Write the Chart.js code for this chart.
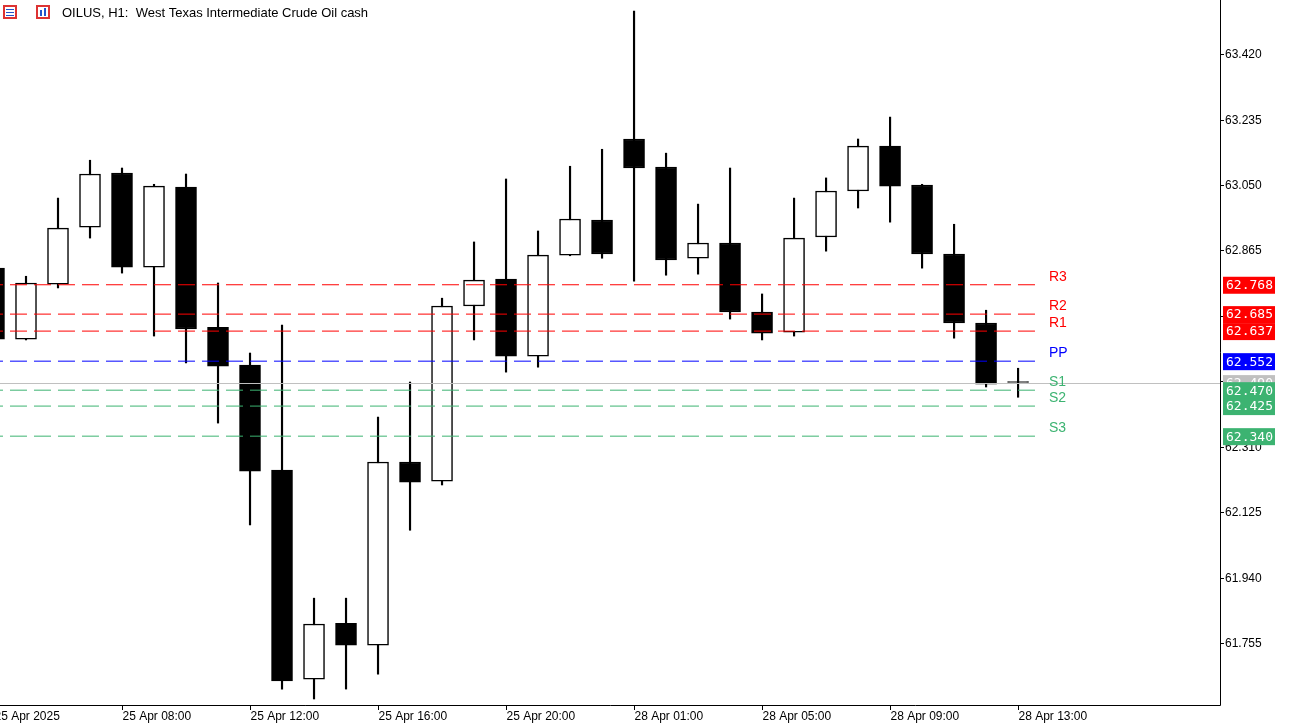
<!DOCTYPE html>
<html>
<head>
<meta charset="utf-8">
<script src="https://cdn.jsdelivr.net/npm/chart.js@4"></script>
<style>
  html, body { margin: 0; padding: 0; background: #fff; }
  #wrap { width: 1290px; height: 727px; position: relative; }
</style>
</head>
<body>
<div id="wrap"><canvas id="chart"></canvas></div>
<script>
// 25 Apr 04:00 .. 28 Apr 13:00, H1
const times = ['25 Apr 04:00','25 Apr 05:00','25 Apr 06:00','25 Apr 07:00','25 Apr 08:00','25 Apr 09:00',
  '25 Apr 10:00','25 Apr 11:00','25 Apr 12:00','25 Apr 13:00','25 Apr 14:00','25 Apr 15:00','25 Apr 16:00',
  '25 Apr 17:00','25 Apr 18:00','25 Apr 19:00','25 Apr 20:00','25 Apr 21:00','25 Apr 22:00','25 Apr 23:00',
  '28 Apr 01:00','28 Apr 02:00','28 Apr 03:00','28 Apr 04:00','28 Apr 05:00','28 Apr 06:00','28 Apr 07:00',
  '28 Apr 08:00','28 Apr 09:00','28 Apr 10:00','28 Apr 11:00','28 Apr 12:00','28 Apr 13:00'];
const opens  = [62.815,62.614,62.770,62.931,63.084,62.818,63.044,62.648,62.541,62.244,61.653,61.811,61.749,
  62.267,62.213,62.708,62.784,62.566,62.852,62.951,63.180,63.101,62.843,62.886,62.691,62.634,62.903,
  63.033,63.160,63.050,62.855,62.660,62.493];
const highs  = [62.818,62.792,63.013,63.120,63.098,63.052,63.081,62.773,62.575,62.654,61.882,61.882,62.394,
  62.493,62.730,62.889,63.067,62.920,63.103,63.151,63.542,63.140,62.996,63.098,62.742,63.013,63.070,
  63.180,63.242,63.052,62.939,62.696,62.532];
const lows   = [62.612,62.612,62.759,62.900,62.801,62.623,62.547,62.377,62.089,61.625,61.597,61.625,61.667,
  62.074,62.202,62.612,62.521,62.535,62.850,62.843,62.778,62.795,62.798,62.671,62.612,62.623,62.863,
  62.985,62.945,62.815,62.617,62.479,62.450];
const closes = [62.614,62.773,62.928,63.081,62.818,63.047,62.643,62.538,62.241,61.648,61.809,61.749,62.267,
  62.210,62.708,62.781,62.566,62.852,62.954,62.855,63.098,62.838,62.886,62.691,62.631,62.900,63.033,
  63.160,63.047,62.855,62.660,62.487,62.493];

const priceTicks = [63.420,63.235,63.050,62.865,62.680,62.495,62.310,62.125,61.940,61.755];
const timeLabels = ['25 Apr 2025','25 Apr 08:00','25 Apr 12:00','25 Apr 16:00','25 Apr 20:00',
  '28 Apr 01:00','28 Apr 05:00','28 Apr 09:00','28 Apr 13:00'];
const timeLabelIdx = [0,4,8,12,16,20,24,28,32];

const levelNames  = ['R3','R2','R1','PP','S1','S2','S3'];
const levelValues = [62.768,62.685,62.637,62.552,62.470,62.425,62.340];
const levelColors = ['#ff0000','#ff0000','#ff0000','#0000ff','#3cb371','#3cb371','#3cb371'];
const bidPrice = 62.490;

const idx = times.map((t, i) => i - 1);
const wicks = idx.map((x, i) => ({ x, y: [lows[i], highs[i]] }));
const bodies = idx.map((x, i) => {
  let a = opens[i], b = closes[i];
  if (Math.abs(a - b) < 0.002) { a -= 0.0012; b += 0.0012; }
  return { x, y: [a, b] };
});
const bull = opens.map((o, i) => closes[i] > o);

const levelSets = levelValues.map((v, i) => ({
  type: 'line',
  data: [{ x: -2, y: v }, { x: 31.7, y: v }],
  borderColor: levelColors[i], borderWidth: 1, borderDash: [17, 7],
  pointRadius: 0, order: 0
}));

const decor = {
  id: 'decor',
  afterDraw(chart) {
    const { ctx, chartArea: a, scales: { x, y } } = chart;
    ctx.save();
    // bid line
    const by = Math.round(y.getPixelForValue(bidPrice)) + 0.5;
    ctx.strokeStyle = '#c0c0c0'; ctx.lineWidth = 1;
    ctx.beginPath(); ctx.moveTo(0, by); ctx.lineTo(a.right, by); ctx.stroke();
    // axes
    ctx.strokeStyle = '#000';
    ctx.beginPath();
    ctx.moveTo(a.right + 0.5, 0); ctx.lineTo(a.right + 0.5, a.bottom + 0.5);
    ctx.lineTo(0, a.bottom + 0.5); ctx.stroke();
    ctx.font = '12px "Liberation Sans", Arial, sans-serif';
    ctx.fillStyle = '#000'; ctx.textBaseline = 'middle'; ctx.textAlign = 'left';
    priceTicks.forEach(p => {
      const py = Math.round(y.getPixelForValue(p)) + 0.5;
      ctx.beginPath(); ctx.moveTo(a.right, py); ctx.lineTo(a.right + 4, py); ctx.stroke();
      ctx.fillText(p.toFixed(3), a.right + 5, py);
    });
    ctx.textBaseline = 'top';
    timeLabelIdx.forEach((ti, k) => {
      const px = Math.round(x.getPixelForValue(ti - 1)) + 0.5;
      ctx.beginPath(); ctx.moveTo(px, a.bottom); ctx.lineTo(px, a.bottom + 5); ctx.stroke();
      ctx.fillText(timeLabels[k], px, a.bottom + 6);
    });
    // level names
    ctx.font = '14px "Liberation Sans", Arial, sans-serif';
    ctx.textBaseline = 'bottom';
    levelValues.forEach((v, i) => {
      const py = y.getPixelForValue(v);
      ctx.fillStyle = levelColors[i];
      ctx.fillText(levelNames[i], 1049, py - 1);
    });
    // price boxes
    ctx.font = '13px "DejaVu Sans Mono", monospace';
    ctx.textBaseline = 'middle';
    const boxes = [[bidPrice, '#c0c0c0']].concat(levelValues.map((v, i) => [v, levelColors[i]]));
    boxes.forEach(([v, c]) => {
      const py = y.getPixelForValue(v);
      ctx.fillStyle = c;
      ctx.fillRect(a.right + 3, py - 8, 52, 17);
      ctx.fillStyle = '#fff';
      ctx.fillText(v.toFixed(3), a.right + 6, py + 1);
    });
    // header
    ctx.fillStyle = '#d33'; ctx.fillRect(3, 5, 14, 14);
    ctx.fillStyle = '#fff'; ctx.fillRect(5, 7, 10, 10);
    ctx.fillStyle = '#2255cc'; ctx.fillRect(6, 9, 8, 1); ctx.fillRect(6, 12, 8, 1); ctx.fillRect(6, 15, 8, 1);
    ctx.fillStyle = '#d33'; ctx.fillRect(36, 5, 14, 14);
    ctx.fillStyle = '#fff'; ctx.fillRect(38, 7, 10, 10);
    ctx.fillStyle = '#2255cc'; ctx.fillRect(40, 10, 2, 6); ctx.fillRect(44, 8, 2, 8);
    ctx.fillStyle = '#000';
    ctx.font = '13px "Liberation Sans", Arial, sans-serif';
    ctx.textBaseline = 'middle';
    ctx.fillText('OILUS, H1:  West Texas Intermediate Crude Oil cash', 62, 13);
    ctx.restore();
  }
};

new Chart(document.getElementById('chart'), {
  type: 'bar',
  data: {
    datasets: [
      { data: wicks, backgroundColor: '#000', barThickness: 1.5, grouped: false, order: 2 },
      { data: bodies, backgroundColor: bull.map(b => b ? '#fff' : '#000'), borderColor: '#000',
        borderWidth: 1.5, borderSkipped: false, barThickness: 21, grouped: false, order: 1 }
    ].concat(levelSets)
  },
  options: {
    responsive: true, maintainAspectRatio: false, animation: false,
    layout: { padding: { left: 0, right: 70, top: 0, bottom: 22 } },
    plugins: { legend: { display: false }, tooltip: { enabled: false } },
    scales: {
      x: { type: 'linear', min: -0.8125, max: 37.31, display: false, offset: false },
      y: { min: 61.580, max: 63.573, display: false }
    }
  },
  plugins: [decor]
});
</script>
</body>
</html>
